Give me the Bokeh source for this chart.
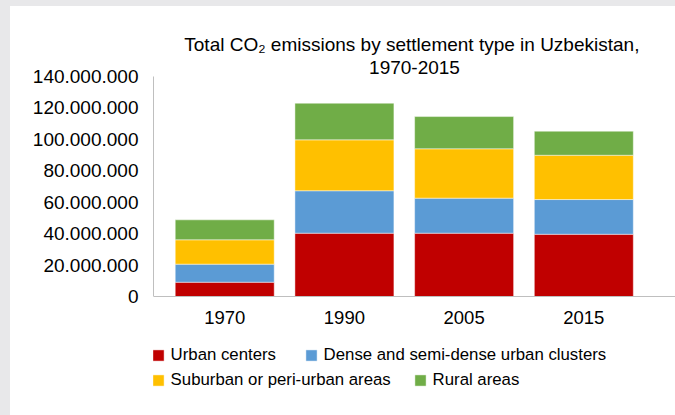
from bokeh.plotting import figure
from bokeh.layouts import column, row
from bokeh.models import (ColumnDataSource, Range1d, FixedTicker, Title, Legend,
                          LegendItem, Spacer)
from bokeh.embed import file_html
from bokeh.resources import INLINE

years = ["1970", "1990", "2005", "2015"]
urban = [9.1e6, 40.3e6, 40.3e6, 39.6e6]
dense = [11.5e6, 27.0e6, 22.3e6, 22.1e6]
suburban = [15.5e6, 32.4e6, 31.4e6, 28.2e6]
rural = [12.7e6, 23.3e6, 20.5e6, 15.3e6]

series = ["urban", "dense", "suburban", "rural"]
series_labels = ["Urban centers", "Dense and semi-dense urban clusters",
                 "Suburban or peri-urban areas", "Rural areas"]
colors = ["#C00000", "#5B9BD5", "#FFC000", "#70AD47"]

y_ticks = [0, 20e6, 40e6, 60e6, 80e6, 100e6, 120e6, 140e6]
y_tick_labels = ["0", "20.000.000", "40.000.000", "60.000.000", "80.000.000",
                 "100.000.000", "120.000.000", "140.000.000"]

title_line1 = "Total CO\u2082 emissions by settlement  type in Uzbekistan,"
title_line2 = "1970-2015"

FONT = "Liberation Sans"
PAGE_GRAY = "#E8E8EA"

xpos = [i + 1 for i in range(len(years))]
source = ColumnDataSource(dict(x=xpos, urban=urban, dense=dense,
                               suburban=suburban, rural=rural))

# frame runs to the bottom of the canvas; the value axis starts at 0 and the
# category axis is pinned at y = 0, leaving room for the legend below it
p = figure(width=665, height=409, output_backend="svg", toolbar_location=None,
           x_range=Range1d(0.405, 4.766), y_range=Range1d(-75.7e6, 140e6),
           min_border_left=143, min_border_right=0, min_border_top=70,
           min_border_bottom=0)
p.title = None
p.outline_line_color = None
p.background_fill_color = "white"
p.border_fill_color = "white"
p.grid.visible = False

renderers = p.vbar_stack(series, x="x", width=0.827, source=source,
                         color=colors, line_color="white", line_alpha=0.45,
                         line_width=1)

# titles
t2 = Title(text=title_line2, align="center", text_font=FONT,
           text_font_size="19px", text_font_style="normal", text_color="#000000",
           standoff=6, offset=0)
t1 = Title(text=title_line1, align="center", text_font=FONT,
           text_font_size="19px", text_font_style="normal", text_color="#000000",
           standoff=1, offset=0)
p.add_layout(t2, "above")
p.add_layout(t1, "above")

# axes
ya = p.yaxis[0]
ya.ticker = FixedTicker(ticks=y_ticks)
ya.bounds = (0, 140e6)
ya.major_label_overrides = {t: l for t, l in zip(y_ticks, y_tick_labels)}
ya.axis_line_color = "#BFBFBF"
ya.major_tick_line_color = None
ya.minor_tick_line_color = None
ya.major_tick_out = 0
ya.major_label_standoff = 15
ya.major_label_text_font = FONT
ya.major_label_text_font_size = "19px"
ya.major_label_text_color = "#000000"

xa = p.xaxis[0]
xa.fixed_location = 0
xa.ticker = FixedTicker(ticks=xpos)
xa.major_label_overrides = {x: y for x, y in zip(xpos, years)}
xa.axis_line_color = "#BFBFBF"
xa.major_tick_line_color = None
xa.minor_tick_line_color = None
xa.major_tick_out = 0
xa.major_label_standoff = 14
xa.major_label_text_font = FONT
xa.major_label_text_font_size = "18.5px"
xa.major_label_text_color = "#000000"

# legends: one per item, Excel-like flow layout in two rows
legend_pos = [(-2.4, 50.5), (150.6, 50.5), (-2.4, 25.5), (259.6, 25.5)]
for r, lab, pos in zip(renderers, series_labels, legend_pos):
    lg = Legend(items=[LegendItem(label=lab, renderers=[r])], location=pos,
                orientation="horizontal", border_line_color=None,
                background_fill_alpha=0, padding=0, margin=0,
                glyph_width=14, glyph_height=14, label_standoff=6,
                label_text_font=FONT, label_text_font_size="16.8px",
                label_text_color="#000000", label_height=14)
    p.add_layout(lg, "center")

# light grey page strip on the left and top, as in the source screenshot
layout = column(
    Spacer(width=675, height=6, background=PAGE_GRAY),
    row(Spacer(width=10, height=409, background=PAGE_GRAY), p,
        background="white", spacing=0),
    background="white", spacing=0)

open("out.html", "w").write(file_html(layout, INLINE))
